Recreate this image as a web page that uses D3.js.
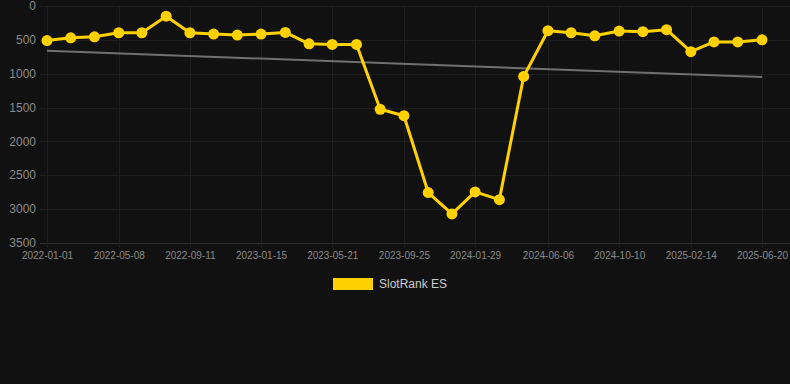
<!DOCTYPE html>
<html>
<head>
<meta charset="utf-8">
<script src="https://cdn.jsdelivr.net/npm/d3@7"></script>
<style>
  html, body { margin: 0; padding: 0; background: #111111; }
  svg { display: block; }
</style>
</head>
<body>
<svg id="chart" width="790" height="384"></svg>
<script>
// data
const dates = [
  "2022-01-01", "2022-02-12", "2022-03-26", "2022-05-08", "2022-06-18", "2022-07-31",
  "2022-09-11", "2022-10-23", "2022-12-04", "2023-01-15", "2023-02-27", "2023-04-10",
  "2023-05-21", "2023-07-03", "2023-08-14", "2023-09-25", "2023-11-07", "2023-12-19",
  "2024-01-29", "2024-03-12", "2024-04-24", "2024-06-06", "2024-07-17", "2024-08-28",
  "2024-10-10", "2024-11-21", "2025-01-02", "2025-02-14", "2025-03-27", "2025-05-08",
  "2025-06-20"
];
const rank = [
  510, 470, 455, 395, 395, 150,
  395, 415, 430, 415, 390, 558,
  568, 568, 1525, 1620, 2755, 3070,
  2745, 2860, 1040, 365, 395, 440,
  370, 380, 350, 675, 530, 530,
  500
];
const trendDates = ["2022-01-01", "2025-06-20"];
const trendValues = [660, 1050];
const xTickLabels = [
  "2022-01-01", "2022-05-08", "2022-09-11", "2023-01-15", "2023-05-21", "2023-09-25",
  "2024-01-29", "2024-06-06", "2024-10-10", "2025-02-14", "2025-06-20"
];
const yTicks = [0, 500, 1000, 1500, 2000, 2500, 3000, 3500];
const seriesName = "SlotRank ES";

const parse = d3.utcParse("%Y-%m-%d");
const fmt = d3.utcFormat("%Y-%m-%d");

const svg = d3.select("#chart");
const width = 790;
const m = {left: 47, right: 762, top: 6, bottom: 243};

const x = d3.scaleUtc()
    .domain([parse(dates[0]), parse(dates[dates.length - 1])])
    .range([m.left, m.right]);

const y = d3.scaleLinear()
    .domain([0, 3500])
    .range([m.top, m.bottom]);

// grid
const grid = svg.append("g");
grid.selectAll("line.h")
    .data(yTicks)
    .join("line")
    .attr("class", "h")
    .attr("x1", 40)
    .attr("x2", width)
    .attr("y1", d => Math.round(y(d)) + 0.5)
    .attr("y2", d => Math.round(y(d)) + 0.5)
    .attr("stroke", d => d === 3500 ? "#2e2e2e" : "#1e1e1e");

grid.selectAll("line.v")
    .data(xTickLabels)
    .join("line")
    .attr("class", "v")
    .attr("x1", d => Math.round(x(parse(d))) + 0.5)
    .attr("x2", d => Math.round(x(parse(d))) + 0.5)
    .attr("y1", m.top)
    .attr("y2", m.bottom + 5)
    .attr("stroke", "#1e1e1e");

// y labels
svg.append("g")
    .attr("font-family", "Liberation Sans, Arial, sans-serif")
    .attr("font-size", 12)
    .attr("fill", "#8a8a8a")
    .selectAll("text")
    .data(yTicks)
    .join("text")
    .attr("x", 36)
    .attr("y", d => y(d))
    .attr("dy", "0.35em")
    .attr("text-anchor", "end")
    .text(d => d);

// x labels
const xAxis = d3.axisBottom(x)
    .tickValues(xTickLabels.map(parse))
    .tickFormat(fmt)
    .tickSize(0)
    .tickPadding(9);

svg.append("g")
    .attr("transform", `translate(0,${m.bottom})`)
    .call(xAxis)
    .call(g => g.select(".domain").remove())
    .call(g => g.selectAll("text")
        .attr("fill", "#8a8a8a")
        .attr("font-size", 10)
        .attr("font-family", "Liberation Sans, Arial, sans-serif"));

// trend line
svg.append("line")
    .attr("x1", x(parse(trendDates[0])))
    .attr("y1", y(trendValues[0]))
    .attr("x2", x(parse(trendDates[1])))
    .attr("y2", y(trendValues[1]))
    .attr("stroke", "#707070")
    .attr("stroke-width", 2);

// series
const pts = dates.map((d, i) => ({date: parse(d), value: rank[i]}));

svg.append("path")
    .datum(pts)
    .attr("fill", "none")
    .attr("stroke", "#FFD100")
    .attr("stroke-width", 3)
    .attr("stroke-linejoin", "round")
    .attr("d", d3.line().x(d => x(d.date)).y(d => y(d.value)));

svg.append("g")
    .attr("fill", "#FFD100")
    .selectAll("circle")
    .data(pts)
    .join("circle")
    .attr("cx", d => x(d.date))
    .attr("cy", d => y(d.value))
    .attr("r", 5.5);

// legend
const legend = svg.append("g").attr("transform", "translate(333,278)");
legend.append("rect")
    .attr("width", 40)
    .attr("height", 12)
    .attr("fill", "#FFD100");
legend.append("text")
    .attr("x", 46)
    .attr("y", 6)
    .attr("dy", "0.35em")
    .attr("font-family", "Liberation Sans, Arial, sans-serif")
    .attr("font-size", 12)
    .attr("fill", "#cccccc")
    .text(seriesName);
</script>
</body>
</html>
